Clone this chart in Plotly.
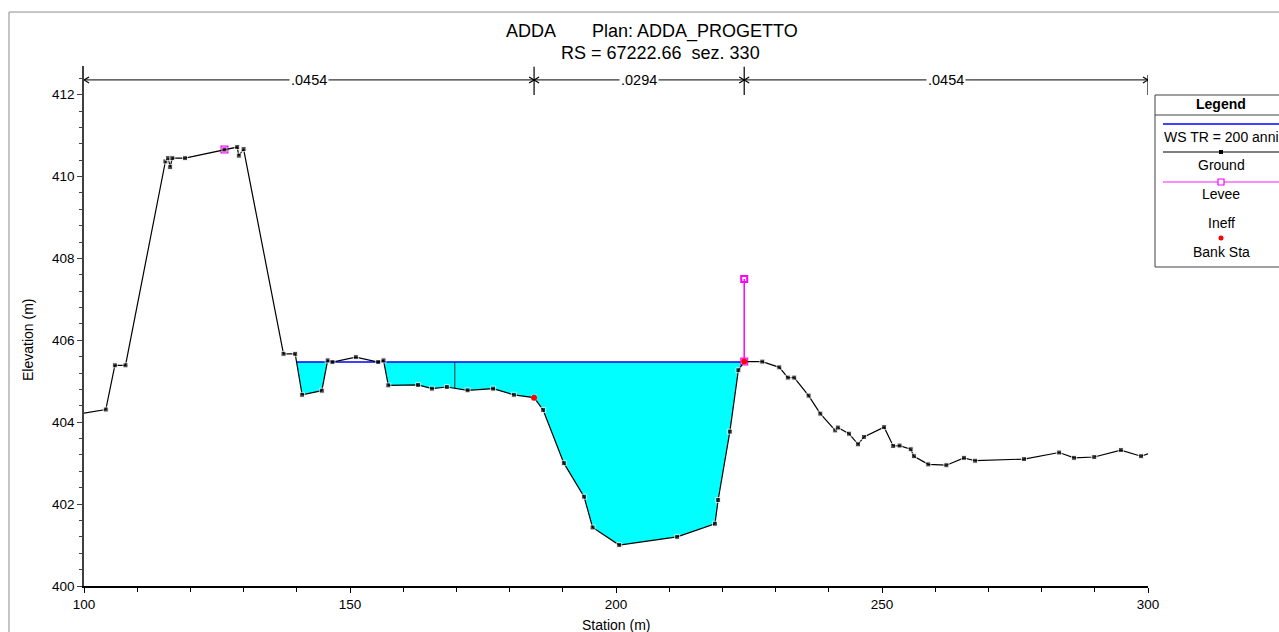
import numpy as np
import plotly.graph_objects as go

# Cross-section ground profile (station m, elevation m)
station = [100.0, 104.1, 105.8, 107.8, 115.3, 115.8, 116.2, 116.6, 119.0, 126.4,
           128.8, 129.1, 130.0, 137.5, 139.7, 141.0, 144.7, 145.8, 146.7, 151.1,
           155.3, 156.3, 157.2, 162.8, 165.4, 168.2, 172.1, 176.9, 180.8, 184.6,
           186.3, 190.2, 194.0, 195.6, 200.6, 211.5, 218.6, 219.2, 221.4, 223.0,
           224.1, 227.5, 230.7, 232.3, 233.5, 236.2, 238.4, 241.2, 241.7, 243.8,
           245.5, 246.6, 250.4, 252.1, 253.3, 255.4, 256.0, 258.7, 262.1, 265.4,
           267.5, 276.7, 283.3, 286.1, 289.9, 294.9, 298.7, 300.0]
elevation = [404.22, 404.31, 405.39, 405.39, 410.37, 410.45, 410.23, 410.45, 410.45, 410.66,
             410.72, 410.51, 410.67, 405.67, 405.67, 404.67, 404.77, 405.51, 405.47, 405.59,
             405.47, 405.51, 404.90, 404.91, 404.82, 404.86, 404.78, 404.82, 404.67, 404.60,
             404.30, 403.00, 402.18, 401.43, 401.00, 401.20, 401.52, 402.10, 403.77, 405.27,
             405.48, 405.48, 405.34, 405.09, 405.09, 404.65, 404.21, 403.80, 403.87, 403.72,
             403.46, 403.64, 403.88, 403.42, 403.43, 403.34, 403.17, 402.97, 402.95, 403.13,
             403.06, 403.10, 403.26, 403.13, 403.15, 403.32, 403.17, 403.23]

# Water surface TR = 200 anni
ws_elev = 405.47
wet_from, wet_to = 139.7, 224.1
split_station = 169.7

# Levees
levee_x = [126.4, None, 224.1, 224.1]
levee_y = [410.66, None, 405.48, 407.50]

# Bank stations
bank_x = [184.6, 224.1]
bank_y = [404.60, 405.48]

# Manning's n subdivisions
n_bounds = [100.0, 184.6, 224.1, 300.0]
n_labels = [".0454", ".0294", ".0454"]
n_elev = 412.36

x_ticks = [100, 150, 200, 250, 300]
y_ticks = [400, 402, 404, 406, 408, 410, 412]

X0, X1 = 100.0, 300.0
Y0, Y1 = 400.0, 412.7

FONT = "Liberation Sans, Arial"


def wetted_profile(xs, ys, level, lo, hi):
    """Ground clipped to the water level between lo and hi, with crossings added."""
    px, py = [], []
    for i in range(len(xs) - 1):
        xa, ya, xb, yb = xs[i], ys[i], xs[i + 1], ys[i + 1]
        if xb < lo or xa > hi:
            continue
        if xa >= lo:
            px.append(xa)
            py.append(min(ya, level))
        if (ya - level) * (yb - level) < 0:
            xi = xa + (level - ya) / (yb - ya) * (xb - xa)
            if lo <= xi <= hi:
                px.append(xi)
                py.append(level)
    if xs[-1] <= hi:
        px.append(xs[-1])
        py.append(min(ys[-1], level))
    elif px[-1] < hi:
        px.append(hi)
        py.append(min(float(np.interp(hi, xs, ys)), level))
    return px, py


wx, wy = wetted_profile(station, elevation, ws_elev, wet_from, wet_to)
# first point where the ground drops below the water surface
ws_start = next(x for x, y, nxt in zip(wx, wy, wy[1:] + [ws_elev]) if nxt < ws_elev)

fig = go.Figure()

fig.add_trace(go.Scatter(
    x=wx + wx[::-1], y=wy + [ws_elev] * len(wx),
    mode="lines", fill="toself", fillcolor="#00FFFF",
    line=dict(width=0), hoverinfo="skip", showlegend=False))

fig.add_trace(go.Scatter(
    x=[ws_start, wet_to], y=[ws_elev, ws_elev], mode="lines",
    line=dict(color="#0000FF", width=1.6), name="WS TR = 200 anni", showlegend=False))

fig.add_trace(go.Scatter(
    x=[split_station, split_station],
    y=[ws_elev, float(np.interp(split_station, station, elevation))],
    mode="lines", line=dict(color="#303030", width=1), showlegend=False, hoverinfo="skip"))

fig.add_trace(go.Scatter(
    x=levee_x, y=levee_y, mode="lines+markers",
    line=dict(color="#FF00FF", width=1.5),
    marker=dict(symbol="square-open", size=6, color="#FF00FF", line=dict(width=2)),
    name="Levee", showlegend=False))

sizes = [5] * len(station)
sizes[0] = 0
sizes[-1] = 0
fig.add_trace(go.Scatter(
    x=station, y=elevation, mode="lines+markers",
    line=dict(color="black", width=1.2),
    marker=dict(symbol="square", size=sizes, color="black"),
    name="Ground", showlegend=False))

fig.add_trace(go.Scatter(
    x=bank_x, y=bank_y, mode="markers",
    marker=dict(symbol="circle", size=6, color="#FF0000"),
    name="Bank Sta", showlegend=False))

shapes = []
annotations = []


def note(x, y, text, font, xref="paper", yref="paper", **kw):
    d = dict(x=x, y=y, xref=xref, yref=yref, text=text, showarrow=False, font=font,
             xanchor="center", yanchor="middle")
    d.update(kw)
    annotations.append(d)


# Manning's n bar with arrows
n_font = dict(size=14.5, color="black", family=FONT)
for i, lab in enumerate(n_labels):
    a, b = n_bounds[i], n_bounds[i + 1]
    shapes.append(dict(type="line", xref="x", yref="y", x0=a, x1=b, y0=n_elev, y1=n_elev,
                       line=dict(color="black", width=1)))
    note((a + b) / 2, n_elev, lab, n_font, xref="x", yref="y", bgcolor="white", borderpad=1)
for b in n_bounds:
    if b > n_bounds[0]:
        shapes.append(dict(type="path", xref="x", yref="y", xsizemode="pixel", ysizemode="pixel",
                           xanchor=b, yanchor=n_elev, path="M -5,3 L 0,0 L -5,-3",
                           line=dict(color="black", width=1.2)))
    if b < n_bounds[-1]:
        shapes.append(dict(type="path", xref="x", yref="y", xsizemode="pixel", ysizemode="pixel",
                           xanchor=b, yanchor=n_elev, path="M 5,3 L 0,0 L 5,-3",
                           line=dict(color="black", width=1.2)))
for b in n_bounds[1:-1]:
    shapes.append(dict(type="line", xref="x", yref="y", x0=b, x1=b, y0=411.99, y1=412.68,
                       line=dict(color="black", width=1.2)))
shapes.append(dict(type="line", xref="x", yref="y", x0=n_bounds[-1], x1=n_bounds[-1],
                   y0=411.99, y1=412.48, line=dict(color="black", width=1.2)))

# Outer frame
shapes.append(dict(type="line", xref="paper", yref="paper", x0=-0.0705, x1=-0.0705,
                   y0=-0.2, y1=1.1038, line=dict(color="#8c8c8c", width=1)))
shapes.append(dict(type="line", xref="paper", yref="paper", x0=-0.0705, x1=1.3,
                   y0=1.1038, y1=1.1038, line=dict(color="#8c8c8c", width=1)))


def px_x(p):
    return (p - 84) / 1064


def px_y(p):
    return (586 - p) / 520


# Title
title_font = dict(size=18, color="black", family=FONT)
note(px_x(531), px_y(31), "ADDA", title_font)
note(px_x(694.5), px_y(31), "Plan: ADDA_PROGETTO", title_font)
note(px_x(660), px_y(53), "RS = 67222.66&nbsp; sez. 330", title_font)

# Axis titles
axis_font = dict(size=14, color="black", family=FONT)
note(px_x(28), px_y(340), "Elevation (m)", axis_font, textangle=-90)
note(px_x(616), px_y(625), "Station (m)", axis_font)

# Legend box
leg_font = dict(size=14, color="black", family=FONT)
cx = px_x(1221)
shapes.append(dict(type="rect", xref="paper", yref="paper", x0=px_x(1155), x1=px_x(1292),
                   y0=px_y(267), y1=px_y(95), line=dict(color="#404040", width=1),
                   fillcolor="white"))
shapes.append(dict(type="line", xref="paper", yref="paper", x0=px_x(1155), x1=px_x(1292),
                   y0=px_y(115), y1=px_y(115), line=dict(color="#404040", width=1)))
note(cx, px_y(104), "<b>Legend</b>", leg_font)
shapes.append(dict(type="line", xref="paper", yref="paper", x0=px_x(1163), x1=px_x(1292),
                   y0=px_y(124), y1=px_y(124), line=dict(color="#0000FF", width=1.5)))
note(px_x(1162), px_y(137), "WS TR = 200 anni", leg_font, xanchor="left")
shapes.append(dict(type="line", xref="paper", yref="paper", x0=px_x(1163), x1=px_x(1292),
                   y0=px_y(152), y1=px_y(152), line=dict(color="black", width=1.2)))
shapes.append(dict(type="rect", xref="paper", yref="paper", xsizemode="pixel", ysizemode="pixel",
                   xanchor=cx, yanchor=px_y(152), x0=-2, x1=2, y0=-2, y1=2,
                   fillcolor="black", line=dict(width=0)))
note(cx, px_y(165), "Ground", leg_font)
shapes.append(dict(type="line", xref="paper", yref="paper", x0=px_x(1163), x1=px_x(1292),
                   y0=px_y(182), y1=px_y(182), line=dict(color="#FF66FF", width=1.5)))
shapes.append(dict(type="rect", xref="paper", yref="paper", xsizemode="pixel", ysizemode="pixel",
                   xanchor=cx, yanchor=px_y(182), x0=-3, x1=3, y0=-3, y1=3,
                   fillcolor="white", line=dict(color="#FF00FF", width=1.2)))
note(cx, px_y(194), "Levee", leg_font)
note(cx, px_y(223), "Ineff", leg_font)
shapes.append(dict(type="circle", xref="paper", yref="paper", xsizemode="pixel", ysizemode="pixel",
                   xanchor=cx, yanchor=px_y(238), x0=-2.5, x1=2.5, y0=-2.5, y1=2.5,
                   fillcolor="#FF0000", line=dict(width=0)))
note(cx, px_y(252), "Bank Sta", leg_font)

tick_font = dict(size=13.5, color="black", family=FONT)
fig.update_layout(
    width=1279, height=632,
    margin=dict(l=84, r=131, t=66, b=46),
    paper_bgcolor="white", plot_bgcolor="white",
    showlegend=False,
    shapes=shapes, annotations=annotations,
    xaxis=dict(range=[X0, X1], tickvals=x_ticks, ticks="outside", ticklen=5,
               tickcolor="black", showline=True, linecolor="black", linewidth=1.5,
               showgrid=False, zeroline=False, tickfont=tick_font,
               minor=dict(dtick=10, tick0=100, ticks="outside", ticklen=4, tickcolor="black",
                          showgrid=False)),
    yaxis=dict(range=[Y0, Y1], tickvals=y_ticks, ticks="outside", ticklen=5,
               tickcolor="#404040", showline=True, linecolor="#404040", linewidth=1.5,
               showgrid=False, zeroline=False, tickfont=tick_font,
               minor=dict(dtick=0.4, tick0=400, ticks="outside", ticklen=3, tickcolor="#404040",
                          showgrid=False)),
)

fig.write_html("out.html")
